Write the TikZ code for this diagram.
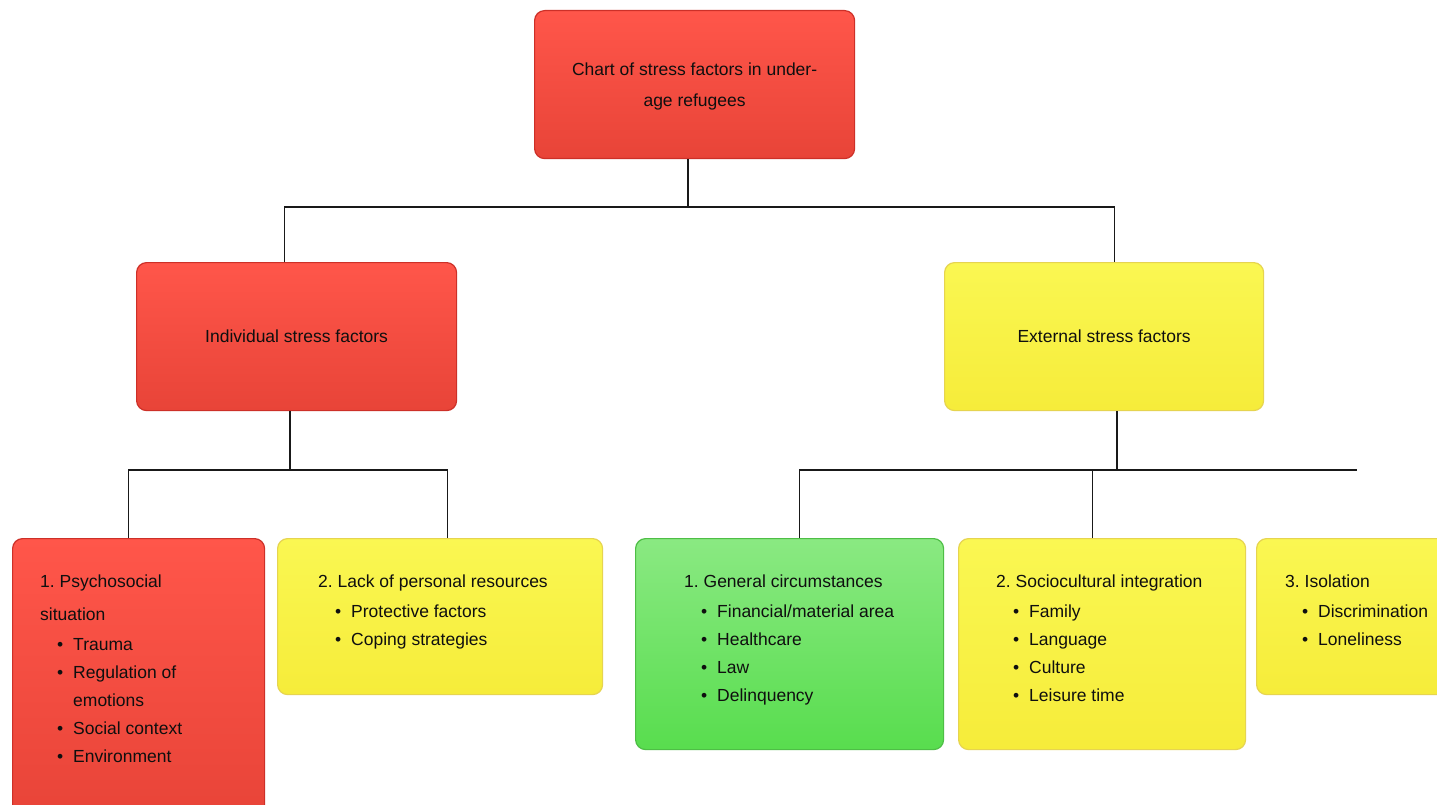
\documentclass[tikz,border=0pt]{standalone}
\usepackage{fontspec}
\setmainfont{Liberation Sans}
\frenchspacing
\definecolor{redtop}{RGB}{255,86,74}
\definecolor{redbot}{RGB}{232,68,56}
\definecolor{redline}{RGB}{205,48,40}
\definecolor{yeltop}{RGB}{250,247,82}
\definecolor{yelbot}{RGB}{246,236,58}
\definecolor{yelline}{RGB}{230,212,80}
\definecolor{grntop}{RGB}{138,233,130}
\definecolor{grnbot}{RGB}{88,221,78}
\definecolor{grnline}{RGB}{78,190,70}
\definecolor{txt}{RGB}{15,15,15}
\newcommand{\bl}[1]{\hbox{\hspace*{17pt}\makebox[16pt][l]{\textbullet}#1}}
\newcommand{\cl}[1]{\hbox{\hspace*{33pt}#1}}
\newcommand{\hl}[1]{\hbox{#1}}
\begin{document}
\begin{tikzpicture}[x=1pt,y=-1pt,
  box/.style={draw, line width=1.2pt, rounded corners=10pt, anchor=north west, inner sep=0pt,
    font=\fontsize{17.5}{31}\selectfont, text=txt, align=center},
  redbox/.style={box, top color=redtop, bottom color=redbot, draw=redline},
  yelbox/.style={box, top color=yeltop, bottom color=yelbot, draw=yelline},
  grnbox/.style={box, top color=grntop, bottom color=grnbot, draw=grnline},
  content/.style={anchor=base west, inner sep=0pt, text=txt, font=\fontsize{17.5}{28}\selectfont},
  title/.style={inner sep=0pt, text=txt, align=center, font=\fontsize{17.5}{31}\selectfont},
  conn/.style={draw=black!90, line width=1.3pt}]
\useasboundingbox (0,0) rectangle (1437,805);
\clip (0,0) rectangle (1437,805);
\fill[white] (0,0) rectangle (1437,805);

% level 0
\node[redbox, minimum width=320pt, minimum height=148pt] (top) at (534,10) {};
\node[title] (toptxt) at ([yshift=-2pt]top.center)
  {Chart of stress factors in under-\\age refugees};
% level 1
\node[redbox, minimum width=320pt, minimum height=148pt] (ind) at (136,262)
  {Individual stress factors};
\node[yelbox, minimum width=319pt, minimum height=148pt] (ext) at (944,262)
  {External stress factors};
% level 2
\node[redbox, minimum width=252pt, minimum height=280pt] (psy) at (12,538) {};
\node[yelbox, minimum width=325pt, minimum height=156pt] (lack) at (277,538) {};
\node[grnbox, minimum width=308pt, minimum height=211pt] (gen) at (635,538) {};
\node[yelbox, minimum width=287pt, minimum height=211pt] (soc) at (958,538) {};
\node[yelbox, minimum width=200pt, minimum height=156pt] (iso) at (1256,538) {};

% contents
\node[content] (psyt) at (40,587) {\vtop{\baselineskip=28pt
  \hl{1. Psychosocial}\vskip5pt
  \hl{situation}\vskip2pt
  \bl{Trauma}
  \bl{Regulation of}
  \cl{emotions}
  \bl{Social context}
  \bl{Environment}}};
\node[content] (lackt) at (318,587) {\vtop{\baselineskip=28pt
  \hl{2. Lack of personal resources}\vskip2pt
  \bl{Protective factors}
  \bl{Coping strategies}}};
\node[content] (gent) at (684,587) {\vtop{\baselineskip=28pt
  \hl{1. General circumstances}\vskip2pt
  \bl{Financial/material area}
  \bl{Healthcare}
  \bl{Law}
  \bl{Delinquency}}};
\node[content] (soct) at (996,587) {\vtop{\baselineskip=28pt
  \hl{2. Sociocultural integration}\vskip2pt
  \bl{Family}
  \bl{Language}
  \bl{Culture}
  \bl{Leisure time}}};
\node[content] (isot) at (1285,587) {\vtop{\baselineskip=28pt
  \hl{3. Isolation}\vskip2pt
  \bl{Discrimination}
  \bl{Loneliness}}};

% connectors
\coordinate (j1) at (688,207);
\draw[conn] (j1 |- top.south) -- (j1);
\draw[conn] ([xshift=-12pt]ind.north) |- (j1) -| ([xshift=10.5pt]ext.north);

\coordinate (j2) at (290,470);
\draw[conn] (j2 |- ind.south) -- (j2);
\draw[conn] ([xshift=-10pt]psy.north) |- (j2) -| ([xshift=7.5pt]lack.north);

\coordinate (j3) at (1117,470);
\coordinate (e3) at (1357,470);
\draw[conn] (j3 |- ext.south) -- (j3);
\draw[conn] ([xshift=10pt]gen.north) |- (e3);
\draw[conn] ([xshift=-9.5pt]soc.north) |- (j3);
\end{tikzpicture}
\end{document}
